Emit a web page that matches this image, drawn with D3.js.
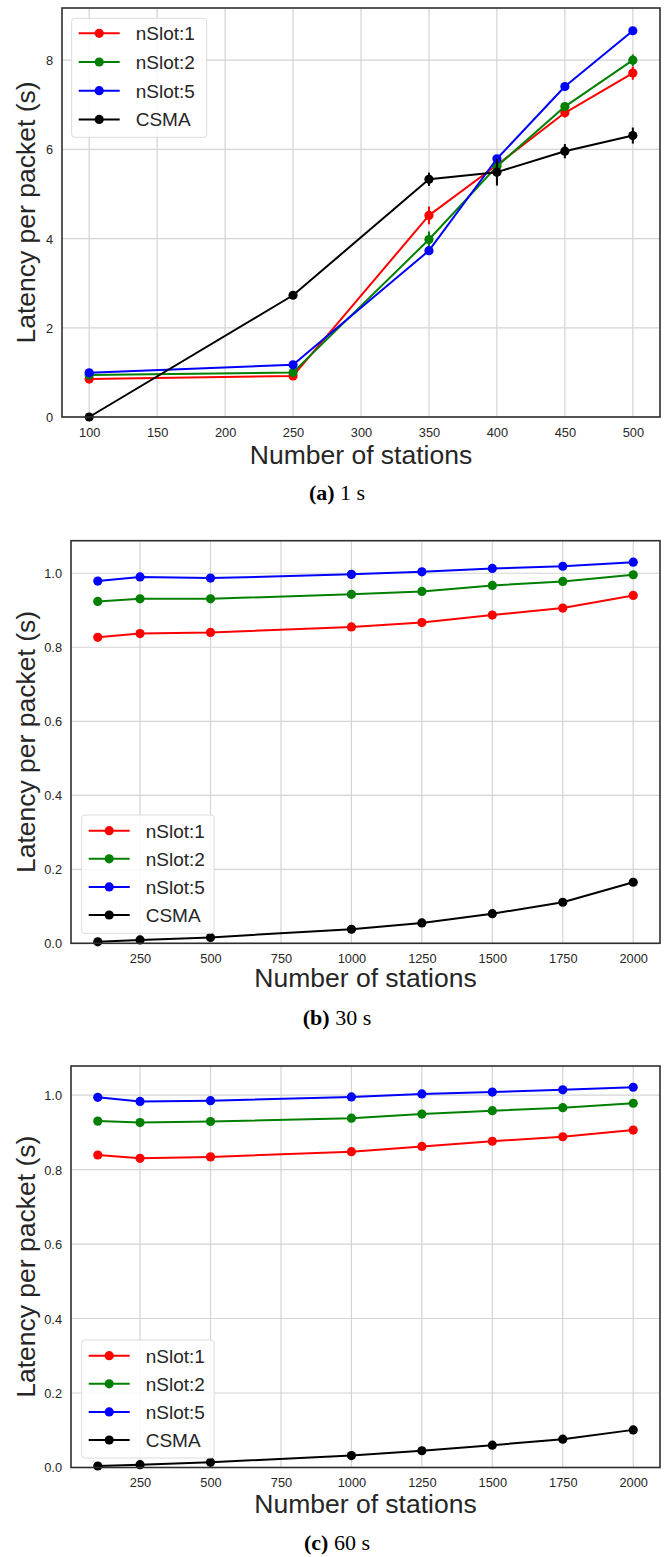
<!DOCTYPE html>
<html><head><meta charset="utf-8">
<script src="https://cdn.jsdelivr.net/npm/d3@7"></script>
<style>
html,body{margin:0;padding:0;background:#fff;}
svg{display:block;}
</style></head>
<body>
<svg id="chart" width="664" height="1557"></svg>
<script>
// ---------- DATA ----------
const seriesNames = ["nSlot:1", "nSlot:2", "nSlot:5", "CSMA"];
const seriesColors = ["#ff0000", "#008000", "#0000ff", "#000000"];

// Panel (a) 1 s
const stationsA = [100, 250, 350, 400, 450, 500];
const aSlot1 = [0.85, 0.92, 4.52, 5.65, 6.82, 7.71];
const aSlot2 = [0.94, 1.00, 3.98, 5.62, 6.96, 8.00];
const aSlot5 = [0.99, 1.17, 3.73, 5.79, 7.41, 8.66];
const aCSMA  = [0.00, 2.73, 5.33, 5.49, 5.96, 6.31];
const aErr1 = [0.04, 0.04, 0.20, 0.10, 0.10, 0.15];
const aErr2 = [0.04, 0.04, 0.18, 0.10, 0.10, 0.13];
const aErr5 = [0.03, 0.03, 0.05, 0.05, 0.05, 0.05];
const aErrC = [0.02, 0.08, 0.15, 0.30, 0.16, 0.18];
const xTicksA = [100, 150, 200, 250, 300, 350, 400, 450, 500];
const yTicksA = [0, 2, 4, 6, 8];

// Panel (b) 30 s
const stationsB = [100, 250, 500, 1000, 1250, 1500, 1750, 2000];
const bSlot1 = [0.827, 0.837, 0.840, 0.855, 0.867, 0.887, 0.906, 0.940];
const bSlot2 = [0.924, 0.931, 0.931, 0.943, 0.951, 0.967, 0.978, 0.996];
const bSlot5 = [0.979, 0.990, 0.987, 0.997, 1.004, 1.013, 1.019, 1.030];
const bCSMA  = [0.004, 0.009, 0.016, 0.038, 0.055, 0.080, 0.111, 0.165];

// Panel (c) 60 s
const stationsC = [100, 250, 500, 1000, 1250, 1500, 1750, 2000];
const cSlot1 = [0.839, 0.830, 0.834, 0.848, 0.862, 0.876, 0.888, 0.906];
const cSlot2 = [0.930, 0.926, 0.929, 0.938, 0.949, 0.958, 0.966, 0.978];
const cSlot5 = [0.994, 0.983, 0.985, 0.995, 1.003, 1.008, 1.014, 1.021];
const cCSMA  = [0.004, 0.0075, 0.014, 0.032, 0.045, 0.060, 0.076, 0.101];

const xTicksBC = [250, 500, 750, 1000, 1250, 1500, 1750, 2000];
const yTicksBC = [0.0, 0.2, 0.4, 0.6, 0.8, 1.0];

const xLabel = "Number of stations";
const yLabel = "Latency per packet (s)";
const captionLetters = ["(a)", "(b)", "(c)"];
const captionTexts = [" 1 s", " 30 s", " 60 s"];

// ---------- DRAW ----------
const svg = d3.select("#chart");
const SANS = "'Liberation Sans', Arial, 'DejaVu Sans', sans-serif";
const SERIF = "'Liberation Serif', 'Times New Roman', serif";
const TXT = "#262626";

function drawPanel(cfg) {
  const g = svg.append("g");
  const x = d3.scaleLinear().domain(cfg.xDomain).range([cfg.left, cfg.right]);
  const y = d3.scaleLinear().domain(cfg.yDomain).range([cfg.bottom, cfg.top]);

  // grid
  const grid = g.append("g");
  grid.selectAll("line.vx").data(cfg.xTicks).join("line")
    .attr("x1", d => x(d)).attr("x2", d => x(d))
    .attr("y1", cfg.top).attr("y2", cfg.bottom)
    .attr("stroke", "#d4d4d4").attr("stroke-width", 1.2);
  grid.selectAll("line.hy").data(cfg.yTicks).join("line")
    .attr("x1", cfg.left).attr("x2", cfg.right)
    .attr("y1", d => y(d)).attr("y2", d => y(d))
    .attr("stroke", "#d4d4d4").attr("stroke-width", 1.2);

  // axes (tick labels only)
  const xAxis = d3.axisBottom(x).tickValues(cfg.xTicks).tickSize(0).tickPadding(0).tickFormat(cfg.xFmt);
  const xa = g.append("g").attr("transform", `translate(0,${cfg.bottom})`).call(xAxis);
  xa.select(".domain").remove();
  xa.selectAll("text").attr("dy", null).attr("y", 19.5)
    .attr("font-family", SANS).attr("font-size", 12.8).attr("fill", TXT);

  const yAxis = d3.axisLeft(y).tickValues(cfg.yTicks).tickSize(0).tickPadding(0).tickFormat(cfg.yFmt);
  const ya = g.append("g").attr("transform", `translate(${cfg.left},0)`).call(yAxis);
  ya.select(".domain").remove();
  ya.selectAll("text").attr("x", -9).attr("dy", "0.35em")
    .attr("font-family", SANS).attr("font-size", 12.8).attr("fill", TXT);

  // series
  const line = d3.line().x(d => x(d[0])).y(d => y(d[1]));
  cfg.series.forEach((vals, i) => {
    const pts = cfg.xs.map((xv, j) => [xv, vals[j], cfg.errs ? cfg.errs[i][j] : 0]);
    const sg = g.append("g");
    sg.append("path").datum(pts).attr("d", line)
      .attr("fill", "none").attr("stroke", seriesColors[i]).attr("stroke-width", 2)
      .attr("stroke-linejoin", "round");
    sg.selectAll("line.err").data(pts.filter(p => p[2] > 0)).join("line")
      .attr("x1", d => x(d[0])).attr("x2", d => x(d[0]))
      .attr("y1", d => y(d[1] - d[2])).attr("y2", d => y(d[1] + d[2]))
      .attr("stroke", seriesColors[i]).attr("stroke-width", 2);
    sg.selectAll("circle").data(pts).join("circle")
      .attr("cx", d => x(d[0])).attr("cy", d => y(d[1])).attr("r", 4.6)
      .attr("fill", seriesColors[i]);
  });

  // frame
  g.append("rect").attr("x", cfg.left).attr("y", cfg.top)
    .attr("width", cfg.right - cfg.left).attr("height", cfg.bottom - cfg.top)
    .attr("fill", "none").attr("stroke", "#2e2e2e").attr("stroke-width", 1.6);

  // legend
  const lg = g.append("g").attr("transform", `translate(${cfg.legX},${cfg.legY})`);
  lg.append("rect").attr("x", 0).attr("y", 0).attr("width", cfg.legW).attr("height", cfg.legH)
    .attr("rx", 3).attr("fill", "#ffffff").attr("fill-opacity", 0.85)
    .attr("stroke", "#dcdcdc").attr("stroke-width", 1);
  seriesNames.forEach((name, i) => {
    const cy = cfg.legRow0 + i * cfg.legStep;
    lg.append("line").attr("x1", 7).attr("x2", 48).attr("y1", cy).attr("y2", cy)
      .attr("stroke", seriesColors[i]).attr("stroke-width", 2);
    lg.append("circle").attr("cx", 27.5).attr("cy", cy).attr("r", 4.6).attr("fill", seriesColors[i]);
    lg.append("text").attr("x", 64).attr("y", cy).attr("dy", "0.36em")
      .attr("font-family", SANS).attr("font-size", 19).attr("fill", TXT).text(name);
  });

  // axis labels
  g.append("text").attr("x", (cfg.left + cfg.right) / 2).attr("y", cfg.bottom + cfg.xLabOff)
    .attr("text-anchor", "middle").attr("font-family", SANS).attr("font-size", 26.5)
    .attr("fill", TXT).text(xLabel);
  g.append("text")
    .attr("transform", `translate(34.5,${(cfg.top + cfg.bottom) / 2}) rotate(-90)`)
    .attr("text-anchor", "middle").attr("font-family", SANS).attr("font-size", 26.5)
    .attr("fill", TXT).text(yLabel);

  // caption
  const cap = g.append("text").attr("x", 337).attr("y", cfg.capY).attr("text-anchor", "middle")
    .attr("font-family", SERIF).attr("font-size", 22).attr("fill", "#000");
  cap.append("tspan").attr("font-weight", "bold").text(cfg.capLetter);
  cap.append("tspan").text(cfg.capText);
}

const fmtInt = d3.format("d");
const fmt1 = d3.format(".1f");

drawPanel({
  left: 62, right: 660, top: 8, bottom: 417,
  xDomain: [80, 520], yDomain: [0, 9.17],
  xTicks: xTicksA, yTicks: yTicksA, xFmt: fmtInt, yFmt: fmtInt,
  xs: stationsA, series: [aSlot1, aSlot2, aSlot5, aCSMA],
  errs: [aErr1, aErr2, aErr5, aErrC],
  legX: 71.7, legY: 18.3, legW: 135, legH: 119, legRow0: 15, legStep: 28.7,
  xLabOff: 47, capY: 500, capLetter: captionLetters[0], capText: captionTexts[0]
});

drawPanel({
  left: 71, right: 660, top: 540.7, bottom: 943.3,
  xDomain: [5, 2095], yDomain: [0, 1.088],
  xTicks: xTicksBC, yTicks: yTicksBC, xFmt: fmtInt, yFmt: fmt1,
  xs: stationsB, series: [bSlot1, bSlot2, bSlot5, bCSMA], errs: null,
  legX: 81.7, legY: 815, legW: 132.5, legH: 118.3, legRow0: 15.7, legStep: 28.1,
  xLabOff: 44, capY: 1025, capLetter: captionLetters[1], capText: captionTexts[1]
});

drawPanel({
  left: 71, right: 660, top: 1066, bottom: 1467.5,
  xDomain: [5, 2095], yDomain: [0, 1.078],
  xTicks: xTicksBC, yTicks: yTicksBC, xFmt: fmtInt, yFmt: fmt1,
  xs: stationsC, series: [cSlot1, cSlot2, cSlot5, cCSMA], errs: null,
  legX: 81.7, legY: 1340, legW: 132.5, legH: 118, legRow0: 15.7, legStep: 28.1,
  xLabOff: 45.5, capY: 1550, capLetter: captionLetters[2], capText: captionTexts[2]
});
</script>
</body></html>
